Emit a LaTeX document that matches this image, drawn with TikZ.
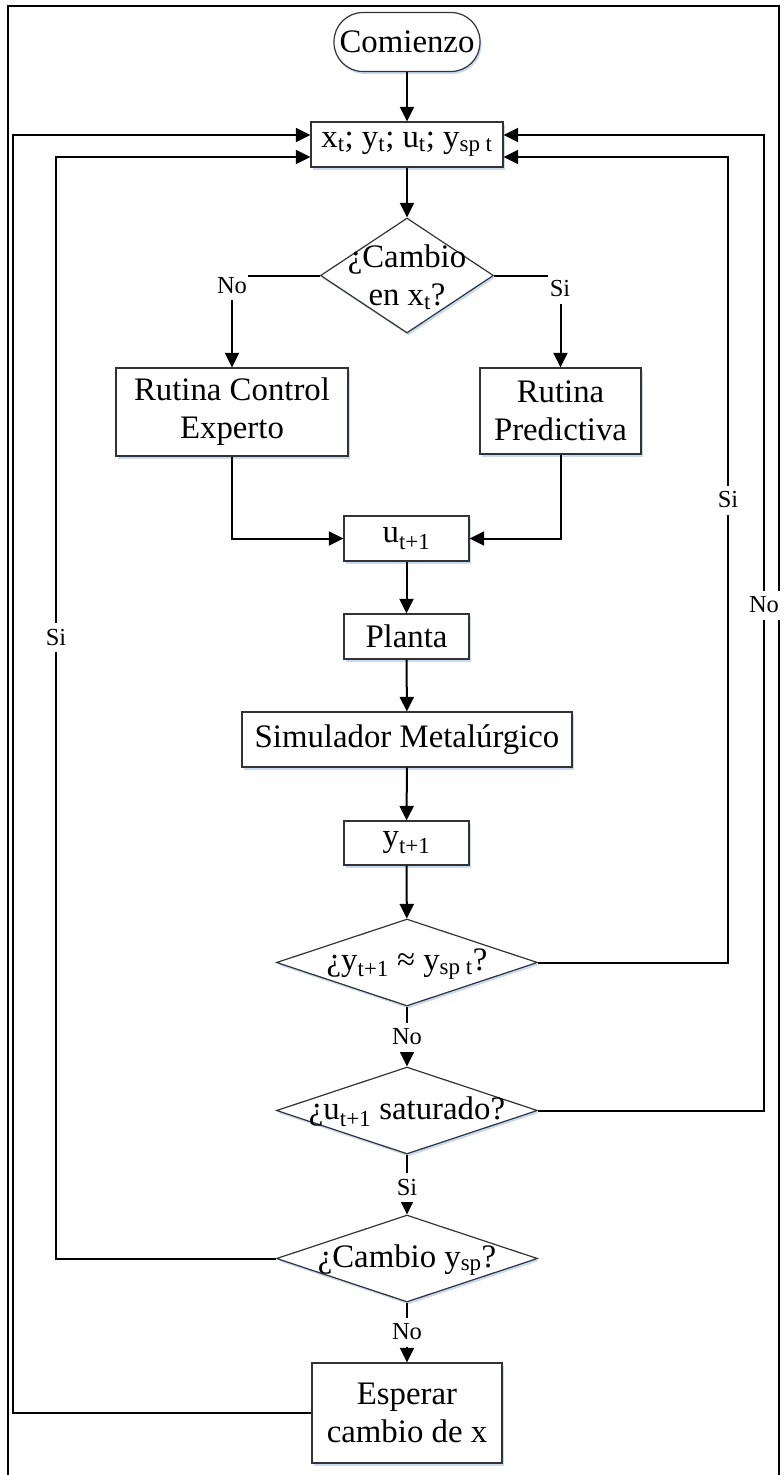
\documentclass[tikz,border=0pt]{standalone}
\usepackage{fontspec}
\setmainfont{Liberation Serif}
\usetikzlibrary{arrows.meta,shapes.geometric,shadows,calc}
\definecolor{shadowc}{HTML}{C9DAF0}
\newcommand\bigf{\fontsize{32.8}{38}\selectfont}
\newcommand\lblf{\fontsize{24.5}{28}\selectfont}
\begin{document}
\begin{tikzpicture}[x=1pt,y=-1pt,
  base/.style={draw=black!80, line width=1.2pt, fill=white, inner sep=0pt, font=\bigf,
    general shadow={fill=shadowc, shadow xshift=1.5pt, shadow yshift=-2.5pt}},
  dtext/.style={inner sep=0pt, font=\bigf, align=center},
  conn/.style={line width=2pt, -{Triangle[length=14.5pt,width=14pt]}},
  lbl/.style={fill=white, inner sep=1.5pt, font=\lblf, minimum height=29pt}
]
\useasboundingbox (0,0) rectangle (784,1475);
\draw[line width=2.2pt] (8,1490) -- (8,6) -- (779,6) -- (779,1490);

% nodes
\node[base, rounded corners=29pt, minimum width=146pt, minimum height=59pt] (start) at (407,42) {Comienzo};
\node[base, minimum width=192pt, minimum height=45pt] (vars) at (407,144.5)
  {x\textsubscript{t}; y\textsubscript{t}; u\textsubscript{t}; y\textsubscript{sp t}};
\node[base, diamond, minimum width=173pt, minimum height=115pt] (d1) at (407,275.5) {};
\node[dtext] (d1t) at (407,277) {¿Cambio\\en x\textsubscript{t}?};
\node[base, minimum width=232pt, minimum height=88pt, align=center] (ctrl) at (232,412) {Rutina Control\\Experto};
\node[base, minimum width=161pt, minimum height=86pt, align=center] (pred) at (560.5,411) {Rutina\\Predictiva};
\node[base, minimum width=125pt, minimum height=45pt] (u) at (406.5,538.5) {u\textsubscript{t+1}};
\node[base, minimum width=125pt, minimum height=45pt] (planta) at (406.5,636.5) {Planta};
\node[base, minimum width=330pt, minimum height=55pt] (sim) at (407,739.5) {Simulador Metalúrgico};
\node[base, minimum width=125pt, minimum height=44pt] (yb) at (406.5,843) {y\textsubscript{t+1}};
\node[base, diamond, minimum width=261pt, minimum height=87pt] (d2) at (407,962.5) {};
\node[dtext] (d2t) at (407,964) {¿y\textsubscript{t+1} ≈ y\textsubscript{sp t}?};
\node[base, diamond, minimum width=261pt, minimum height=87pt] (d3) at (407,1110.5) {};
\node[dtext] (d3t) at (407,1112) {¿u\textsubscript{t+1} saturado?};
\node[base, diamond, minimum width=261pt, minimum height=87pt] (d4) at (407,1258.5) {};
\node[dtext] (d4t) at (407,1260) {¿Cambio y\textsubscript{sp}?};
\node[base, minimum width=190pt, minimum height=100pt, align=center] (esp) at (407,1413) {Esperar\\cambio de x};

% loop corner coordinates
\coordinate (rS) at (728,157);
\coordinate (rN) at (764,135);
\coordinate (lS) at (56,157);
\coordinate (lN) at (13,135);

% main flow
\draw[conn] (start) -- (vars);
\draw[conn] (vars) -- (d1);
\draw[conn] (d1.west) -| (ctrl.north);
\draw[conn] (d1.east) -| (pred.north);
\draw[conn] (ctrl.south) |- (u.west);
\draw[conn] (pred.south) |- (u.east);
\draw[conn] (u) -- (planta);
\draw[conn] (planta) -- (sim);
\draw[conn] (sim) -- (yb);
\draw[conn] (yb) -- (d2);
\draw[conn] (d2.south) -- (d3.north);
\draw[conn] (d3.south) -- (d4.north);
\draw[conn] (d4.south) -- (esp.north);

% loops back
\draw[conn] (d2.east) -| (rS) -- (rS -| vars.east);
\draw[conn] (d3.east) -| (rN) -- (rN -| vars.east);
\draw[conn] (d4.west) -| (lS) -- (lS -| vars.west);
\draw[conn] (esp.west) -| (lN) -- (lN -| vars.west);

% labels
\node[lbl, minimum height=28pt] (l1) at (232,286) {No};
\node[lbl, minimum height=30pt] (l2) at (560,289) {Si};
\node[lbl] (l3) at (407,1037) {No};
\node[lbl] (l4) at (407,1187) {Si};
\node[lbl] (l5) at (407,1332) {No};
\node[lbl] (l6) at (728,500) {Si};
\node[lbl] (l7) at (764,605) {No};
\node[lbl] (l8) at (56,637) {Si};
\end{tikzpicture}
\end{document}
